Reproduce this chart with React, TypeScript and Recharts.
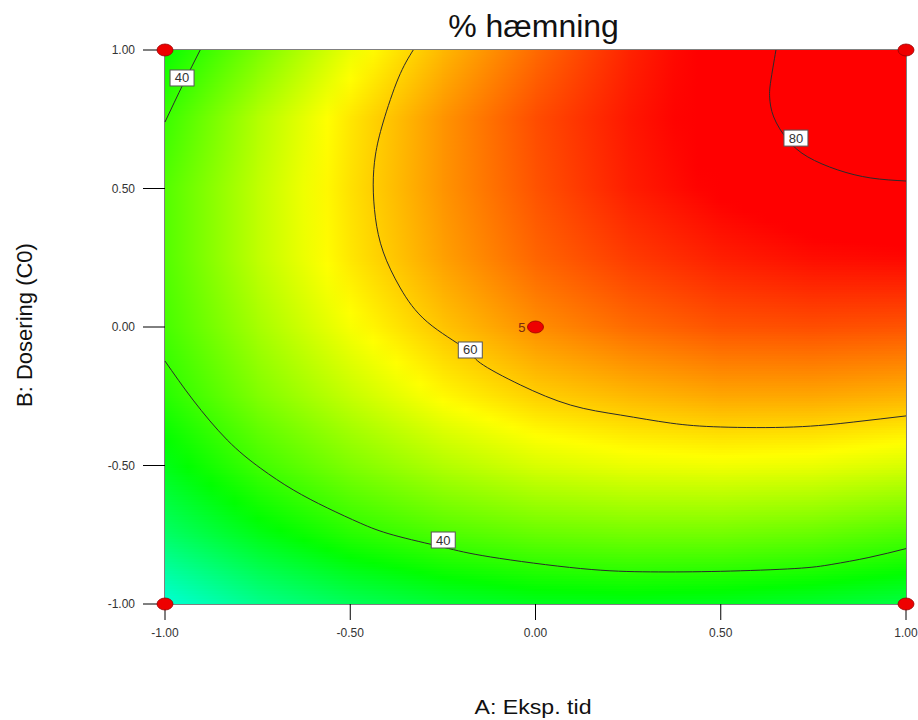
import React from "react";
import { ScatterChart, Scatter, XAxis, YAxis, ReferenceLine } from "recharts";

// grid of the response surface (A across, B down from the top)
const gridA = [-1, -0.75, -0.5, -0.25, 0, 0.25, 0.5, 0.75, 1];
const gridB = [1, 0.75, 0.5, 0.25, 0, -0.25, -0.5, -0.75, -1];
const surface = [
  [36, 45, 54, 61.5, 68, 74, 78.5, 81.5, 84],
  [40, 49.5, 57.5, 64.5, 70.5, 75, 78.5, 81, 83],
  [42, 50.5, 58, 64.5, 70, 74.5, 77.5, 79.5, 80],
  [42, 50.5, 57.5, 63.5, 68.5, 72, 74.5, 76, 76.5],
  [41, 48.5, 55, 60.5, 65, 68, 70, 70.5, 70],
  [38.5, 45.5, 51, 56, 59.5, 61.5, 63, 63, 62],
  [34, 40.5, 45.5, 49.5, 52.5, 54, 54.5, 54, 52.5],
  [28.5, 34, 38.5, 41.5, 43.5, 44.5, 44.5, 43.5, 41.5],
  [21, 26, 29.5, 32, 33.5, 34, 33.5, 32.5, 31],
];

// contour lines
const contour40Top = [
  { a: -0.905, b: 1 },
  { a: -0.95, b: 0.88 },
  { a: -1, b: 0.74 },
];
const contour40Low = [
  { a: -1, b: -0.123 },
  { a: -0.924, b: -0.264 },
  { a: -0.832, b: -0.408 },
  { a: -0.743, b: -0.509 },
  { a: -0.654, b: -0.588 },
  { a: -0.562, b: -0.653 },
  { a: -0.473, b: -0.708 },
  { a: -0.384, b: -0.751 },
  { a: -0.249, b: -0.795 },
  { a: -0.122, b: -0.83 },
  { a: 0.122, b: -0.872 },
  { a: 0.311, b: -0.884 },
  { a: 0.5, b: -0.882 },
  { a: 0.7, b: -0.872 },
  { a: 0.8, b: -0.857 },
  { a: 0.9, b: -0.832 },
  { a: 1, b: -0.8 },
];
const contour60 = [
  { a: -0.33, b: 1 },
  { a: -0.37, b: 0.899 },
  { a: -0.411, b: 0.74 },
  { a: -0.432, b: 0.621 },
  { a: -0.438, b: 0.513 },
  { a: -0.432, b: 0.394 },
  { a: -0.411, b: 0.271 },
  { a: -0.365, b: 0.141 },
  { a: -0.292, b: 0.018 },
  { a: -0.19, b: -0.078 },
  { a: -0.149, b: -0.13 },
  { a: -0.041, b: -0.209 },
  { a: 0.095, b: -0.282 },
  { a: 0.23, b: -0.318 },
  { a: 0.365, b: -0.347 },
  { a: 0.5, b: -0.361 },
  { a: 0.697, b: -0.361 },
  { a: 0.859, b: -0.343 },
  { a: 1, b: -0.321 },
];
const contour80 = [
  { a: 0.649, b: 1 },
  { a: 0.635, b: 0.888 },
  { a: 0.632, b: 0.83 },
  { a: 0.643, b: 0.758 },
  { a: 0.681, b: 0.675 },
  { a: 0.735, b: 0.614 },
  { a: 0.816, b: 0.567 },
  { a: 0.905, b: 0.538 },
  { a: 1, b: 0.527 },
];
const contourLabels = [
  { a: -0.954, b: 0.899, text: "40" },
  { a: 0.703, b: 0.682, text: "80" },
  { a: -0.176, b: -0.083, text: "60" },
  { a: -0.249, b: -0.769, text: "40" },
];
const designPoints = [
  { a: -1, b: 1, runs: 1 },
  { a: 1, b: 1, runs: 1 },
  { a: -1, b: -1, runs: 1 },
  { a: 1, b: -1, runs: 1 },
  { a: 0, b: 0, runs: 5 },
];
const axisTicks = [-1, -0.5, 0, 0.5, 1];

const W = 918;
const H = 720;
const MARGIN = { top: 50, right: 12, bottom: 86, left: 105 };
const Y_AXIS_W = 60;
const X_AXIS_H = 30;
const PLOT_X = MARGIN.left + Y_AXIS_W;
const PLOT_W = W - PLOT_X - MARGIN.right;
const PLOT_H = H - MARGIN.top - MARGIN.bottom - X_AXIS_H;
const CELL_W = PLOT_W / (gridA.length - 1);
const CELL_H = PLOT_H / (gridB.length - 1);
const STRIPS = 28;
const FONT = "'Liberation Sans', Arial, sans-serif";

// colour ramp cyan -> green -> yellow -> red
const hueStops = [
  [21, 170],
  [35.5, 120],
  [55.5, 60],
  [77, 0],
];
function heatColor(v: number) {
  if (v <= hueStops[0][0]) return `hsl(${hueStops[0][1]},100%,50%)`;
  for (let i = 1; i < hueStops.length; i++) {
    const [v0, h0] = hueStops[i - 1];
    const [v1, h1] = hueStops[i];
    if (v <= v1) {
      const t = (v - v0) / (v1 - v0);
      return `hsl(${h0 + (h1 - h0) * t},100%,50%)`;
    }
  }
  return "hsl(0,100%,50%)";
}

const heatData = gridB.flatMap((b, i) =>
  gridA.map((a, j) => ({ a, b, i, j }))
);

// each grid node paints the patch down-right of it, shaded between its four corners
function HeatCell(props: any) {
  const { cx, cy, payload } = props;
  const { i, j } = payload;
  if (i >= gridB.length - 1 || j >= gridA.length - 1) return <g />;
  const v00 = surface[i][j];
  const v01 = surface[i][j + 1];
  const v10 = surface[i + 1][j];
  const v11 = surface[i + 1][j + 1];
  const h = CELL_H / STRIPS;
  const strips = [];
  for (let k = 0; k < STRIPS; k++) {
    const t = (k + 0.5) / STRIPS;
    const vl = v00 + (v10 - v00) * t;
    const vr = v01 + (v11 - v01) * t;
    const id = `hg-${i}-${j}-${k}`;
    strips.push(
      <g key={k}>
        <linearGradient id={id} x1="0" y1="0" x2="1" y2="0">
          {[0, 0.25, 0.5, 0.75, 1].map((u) => (
            <stop key={u} offset={u} stopColor={heatColor(vl + (vr - vl) * u)} />
          ))}
        </linearGradient>
        <rect
          x={cx - 0.4}
          y={cy + k * h - 0.4}
          width={CELL_W + 0.8}
          height={h + 0.8}
          fill={`url(#${id})`}
          shapeRendering="crispEdges"
        />
      </g>
    );
  }
  return <g>{strips}</g>;
}

function ContourLabel(props: any) {
  const { cx, cy, payload } = props;
  return (
    <g>
      <rect
        x={cx - 12}
        y={cy - 8}
        width={24}
        height={16}
        fill="#fff"
        stroke="#555"
        strokeWidth={1}
      />
      <text
        x={cx}
        y={cy + 4.5}
        textAnchor="middle"
        fontSize={13}
        fontFamily={FONT}
        fill="#333"
      >
        {payload.text}
      </text>
    </g>
  );
}

function DesignPoint(props: any) {
  const { cx, cy, payload } = props;
  return (
    <g>
      <ellipse cx={cx} cy={cy} rx={8} ry={6} fill="#ee0000" stroke="#990000" strokeWidth={0.8} />
      {payload.runs > 1 && (
        <text
          x={cx - 10}
          y={cy + 4.5}
          textAnchor="end"
          fontSize={13}
          fontFamily={FONT}
          fill="#7a2a10"
        >
          {payload.runs}
        </text>
      )}
    </g>
  );
}

const noDot = () => <g />;
const contourLine = { stroke: "#2b2b2b", strokeWidth: 1 };
const fmt = (v: number) => v.toFixed(2);

export default function App() {
  return (
    <div style={{ position: "absolute", left: 0, top: 0, width: W, height: H, background: "#fff" }}>
      <ScatterChart width={W} height={H} margin={MARGIN}>
        <XAxis
          dataKey="a"
          type="number"
          domain={[-1, 1]}
          ticks={axisTicks}
          tickFormatter={fmt}
          height={X_AXIS_H}
          tickSize={16}
          tickMargin={8}
          axisLine={{ stroke: "#000" }}
          tickLine={{ stroke: "#000" }}
          tick={{ fill: "#333", fontSize: 12, fontFamily: FONT }}
        />
        <YAxis
          dataKey="b"
          type="number"
          domain={[-1, 1]}
          ticks={axisTicks}
          tickFormatter={fmt}
          width={Y_AXIS_W}
          tickSize={22}
          tickMargin={8}
          axisLine={{ stroke: "#000" }}
          tickLine={{ stroke: "#000" }}
          tick={{ fill: "#333", fontSize: 12, fontFamily: FONT }}
        />
        <Scatter data={heatData} shape={HeatCell} isAnimationActive={false} />
        <ReferenceLine y={1} stroke="#000" />
        <ReferenceLine x={1} stroke="#000" />
        <Scatter data={contour40Top} line={contourLine} lineJointType="natural" shape={noDot} isAnimationActive={false} />
        <Scatter data={contour40Low} line={contourLine} lineJointType="natural" shape={noDot} isAnimationActive={false} />
        <Scatter data={contour60} line={contourLine} lineJointType="natural" shape={noDot} isAnimationActive={false} />
        <Scatter data={contour80} line={contourLine} lineJointType="natural" shape={noDot} isAnimationActive={false} />
        <Scatter data={contourLabels} shape={ContourLabel} isAnimationActive={false} />
        <Scatter data={designPoints} shape={DesignPoint} isAnimationActive={false} />
      </ScatterChart>
      <svg
        width={W}
        height={H}
        style={{ position: "absolute", left: 0, top: 0, pointerEvents: "none" }}
      >
        <text x={533.5} y={37} textAnchor="middle" fontSize={32} fontFamily={FONT} fill="#111">
          % hæmning
        </text>
        <text
          x={533}
          y={714}
          textAnchor="middle"
          fontSize={20}
          fontFamily={FONT}
          fill="#111"
          textLength={117}
          lengthAdjust="spacingAndGlyphs"
        >
          A: Eksp. tid
        </text>
        <text
          x={32}
          y={325}
          transform="rotate(-90 32 325)"
          textAnchor="middle"
          fontSize={22}
          fontFamily={FONT}
          fill="#111"
        >
          B: Dosering (C0)
        </text>
      </svg>
    </div>
  );
}
